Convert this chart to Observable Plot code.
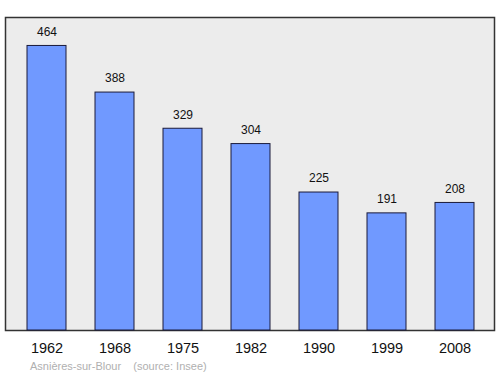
<!DOCTYPE html>
<html>
<head>
<meta charset="utf-8">
<script src="https://cdn.jsdelivr.net/npm/d3@7"></script>
<script src="https://cdn.jsdelivr.net/npm/@observablehq/plot@0.6"></script>
<style>
  body { margin: 0; background: #fff; font-family: "Liberation Sans", Arial, sans-serif; }
  #caption { position: relative; margin: 4px 0 0 30px; font-size: 11px; line-height: 13px; color: #b0b0b0; white-space: pre; }
</style>
</head>
<body>
<div id="chart"></div>
<div id="caption"></div>
<script>
const years = ["1962", "1968", "1975", "1982", "1990", "1999", "2008"];
const population = [464, 388, 329, 304, 225, 191, 208];
const place = "Asnières-sur-Blour";
const source = "(source: Insee)";

const data = years.map((y, i) => ({year: y, value: population[i]}));

const chart = Plot.plot({
  width: 500,
  height: 356,
  marginTop: 17,
  marginBottom: 26,
  marginLeft: 11,
  marginRight: 10,
  style: {fontFamily: "'Liberation Sans', Arial, sans-serif", background: "transparent"},
  x: {domain: years, paddingInner: 0.43, paddingOuter: 0.215, label: null},
  y: {domain: [0, 464 * 1.1], axis: null},
  marks: [
    Plot.frame({fill: "#ececec", stroke: "#333", strokeWidth: 1.5, insetLeft: -6, insetRight: -4}),
    Plot.barY(data, {x: "year", y: "value", fill: "#7099ff", stroke: "#1a1a3a", strokeWidth: 1}),
    Plot.text(data, {x: "year", y: "value", text: d => String(d.value), dy: -14, fontSize: 12, fill: "#111"}),
    Plot.axisX({tickSize: 0, tickPadding: 12.5, fontSize: 14.5, fill: "#111"})
  ]
});
document.getElementById("chart").appendChild(chart);
document.getElementById("caption").textContent = place + "    " + source;
</script>
</body>
</html>
